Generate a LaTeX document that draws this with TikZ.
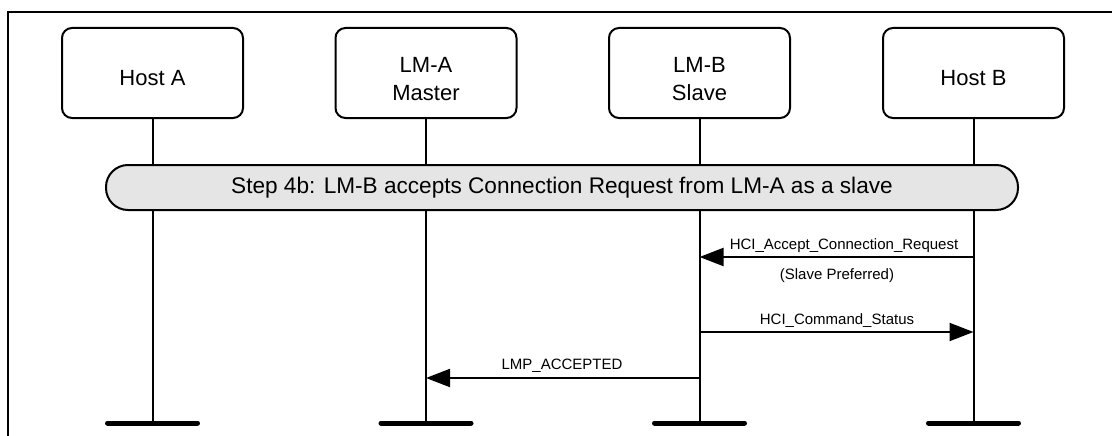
\documentclass[tikz,border=0pt]{standalone}
\usepackage{fontspec}
\setmainfont{Liberation Sans}
\usetikzlibrary{arrows.meta}
\begin{document}
\begin{tikzpicture}[x=1pt,y=-1pt,
  ent/.style={draw,line width=2pt,rounded corners=10pt,minimum width=181pt,minimum height=90pt,inner sep=0pt,align=center,font=\fontsize{22}{28}\selectfont,text depth=0pt},
  life/.style={line width=2pt},
  endbar/.style={line width=5pt,line cap=round},
  msg/.style={line width=2pt,-{Triangle[length=24pt,width=18pt]}},
  lbl/.style={font=\fontsize{15}{18}\selectfont,inner sep=0pt,anchor=base},
  stepbar/.style={draw,line width=2pt,fill=gray!20,rounded corners=22pt,minimum width=912pt,minimum height=45pt,inner sep=0pt,font=\fontsize{22.6}{26}\selectfont},
  frame/.style={line width=2pt}
]
\useasboundingbox (0,0) rectangle (1112,436);
% frame
\coordinate (fr-r) at (1112,12);
\coordinate (fr-c) at (7.5,12);
\coordinate (fr-b) at (7.5,436);
\draw[frame] (fr-r) -- (fr-c) -- (fr-b);

% entities
\node[ent,text height=24pt] (hostA) at (152.5,73) {Host A};
\node[ent,text height=54pt] (lmA) at (426,73) {LM-A\\Master};
\node[ent,text height=54pt] (lmB) at (699.5,73) {LM-B\\Slave};
\node[ent,text height=24pt] (hostB) at (973.5,73) {Host B};

% lifeline ends
\coordinate (hostA-e) at (152.5,423);
\coordinate (lmA-e) at (426,423);
\coordinate (lmB-e) at (699.5,423);
\coordinate (hostB-e) at (973.5,423);

\draw[life] (hostA.south) -- (hostA-e);
\draw[life] (lmA.south) -- (lmA-e);
\draw[life] (lmB.south) -- (lmB-e);
\draw[life] (hostB.south) -- (hostB-e);

\draw[endbar] ([xshift=-45pt]hostA-e) -- ([xshift=45pt]hostA-e);
\draw[endbar] ([xshift=-45pt]lmA-e) -- ([xshift=45pt]lmA-e);
\draw[endbar] ([xshift=-45pt]lmB-e) -- ([xshift=45pt]lmB-e);
\draw[endbar] ([xshift=-45pt]hostB-e) -- ([xshift=45pt]hostB-e);

% step bar
\node[stepbar] (step) at (562,187.5) {Step 4b: LM-B accepts Connection Request from LM-A as a slave};

% messages
\coordinate (m1s) at (973.5,257);
\coordinate (m1e) at (699.5,257);
\coordinate (m2s) at (699.5,332);
\coordinate (m2e) at (973.5,332);
\coordinate (m3s) at (699.5,378);
\coordinate (m3e) at (426,378);

\draw[msg] (m1s) -- (m1e);
\node[lbl] (m1l) at (844,249.5) {HCI\_Accept\_Connection\_Request};
\node[lbl] (m1l2) at (837,279.5) {(Slave Preferred)};

\draw[msg] (m2s) -- (m2e);
\node[lbl] (m2l) at (837,324.5) {HCI\_Command\_Status};

\draw[msg] (m3s) -- (m3e);
\node[lbl] (m3l) at (562,369.5) {LMP\_ACCEPTED};
\end{tikzpicture}
\end{document}
